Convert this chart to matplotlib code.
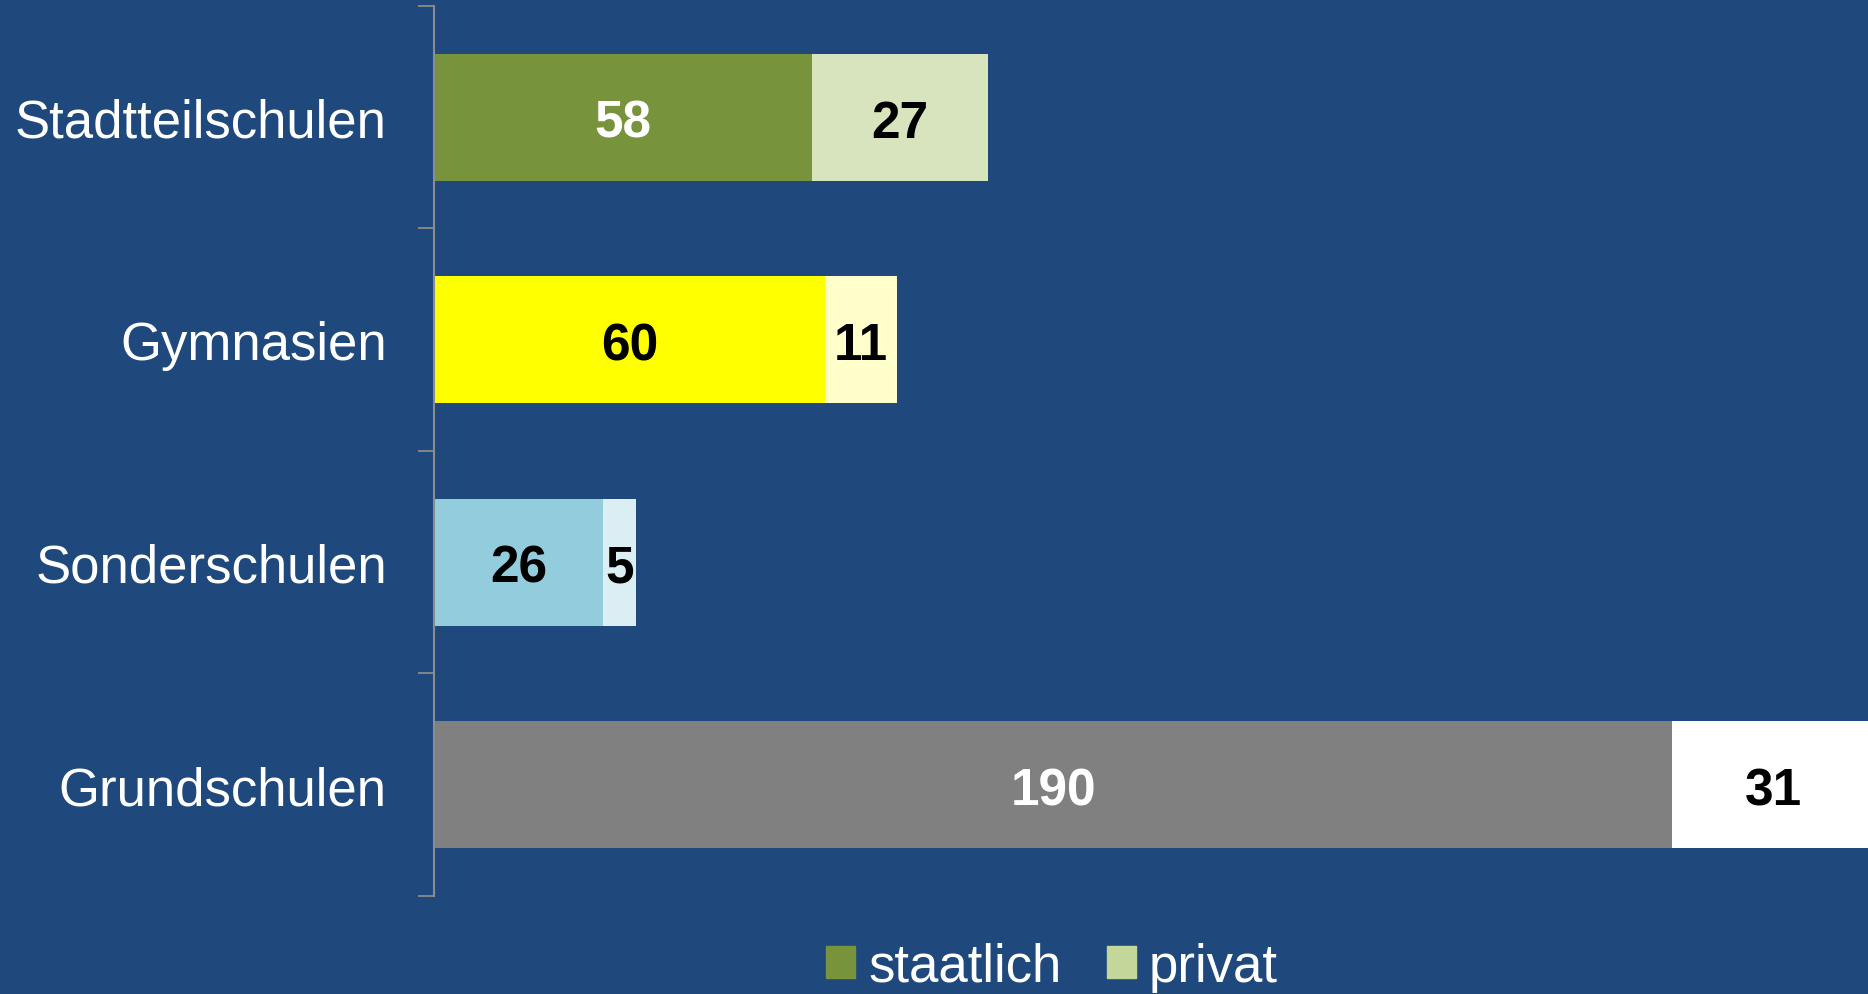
import matplotlib
matplotlib.use("Agg")
import matplotlib.pyplot as plt
from matplotlib.patches import Patch

plt.rcParams["font.family"] = ["Liberation Sans", "DejaVu Sans"]

# data
categories = ["Stadtteilschulen", "Gymnasien", "Sonderschulen", "Grundschulen"]
staatlich = [58, 60, 26, 190]
privat = [27, 11, 5, 31]

# style
BG = "#1F497D"
colors_staat = ["#77933C", "#FFFF00", "#93CDDD", "#808080"]
colors_priv = ["#D7E4BD", "#FFFFCC", "#DBEEF4", "#FFFFFF"]
text_staat = ["white", "black", "black", "white"]

fig = plt.figure(figsize=(18.68, 9.95), dpi=100, facecolor=BG)
ax = fig.add_axes([0.2323, 0.0985, 1 - 0.2323, 0.993 - 0.0985])
ax.set_facecolor(BG)

ypos = list(range(len(categories)))
ax.barh(ypos, staatlich, height=0.57, color=colors_staat)
ax.barh(ypos, privat, left=staatlich, height=0.57, color=colors_priv)

for y, s, p, tc in zip(ypos, staatlich, privat, text_staat):
    ax.annotate(str(s), (s / 2, y), xytext=(0, -4.5), textcoords="offset points",
                ha="center", va="center", fontsize=37, fontweight="bold", color=tc)
    ax.annotate(str(p), (s + p / 2, y), xytext=(0, -4.5), textcoords="offset points",
                ha="center", va="center", fontsize=37, fontweight="bold", color="black")

ax.set_xlim(0, 220)
ax.set_ylim(3.5, -0.5)
ax.set_xticks([])
ax.set_yticks(ypos)
ax.set_yticklabels(categories, fontsize=38, color="white")
ax.tick_params(axis="y", which="major", length=0, pad=34)
ax.set_yticks([-0.5, 0.5, 1.5, 2.5, 3.5], minor=True)
ax.tick_params(axis="y", which="minor", length=11.5, width=1.3, color="#8C8C8C")

for side in ["top", "right", "bottom"]:
    ax.spines[side].set_visible(False)
ax.spines["left"].set_color("#8C8C8C")
ax.spines["left"].set_linewidth(1.5)

handles = [Patch(color="#77933C", label="staatlich"),
           Patch(color="#C4D79B", label="privat")]
leg = fig.legend(handles=handles, loc="center", bbox_to_anchor=(1052 / 1868, 1 - 968 / 995),
                 ncol=2, frameon=False, fontsize=38, handlelength=0.55, handleheight=0.55,
                 handletextpad=0.25, columnspacing=0.85, borderpad=0)
for t in leg.get_texts():
    t.set_color("white")

fig.savefig("out.png", dpi=100, facecolor=BG)
